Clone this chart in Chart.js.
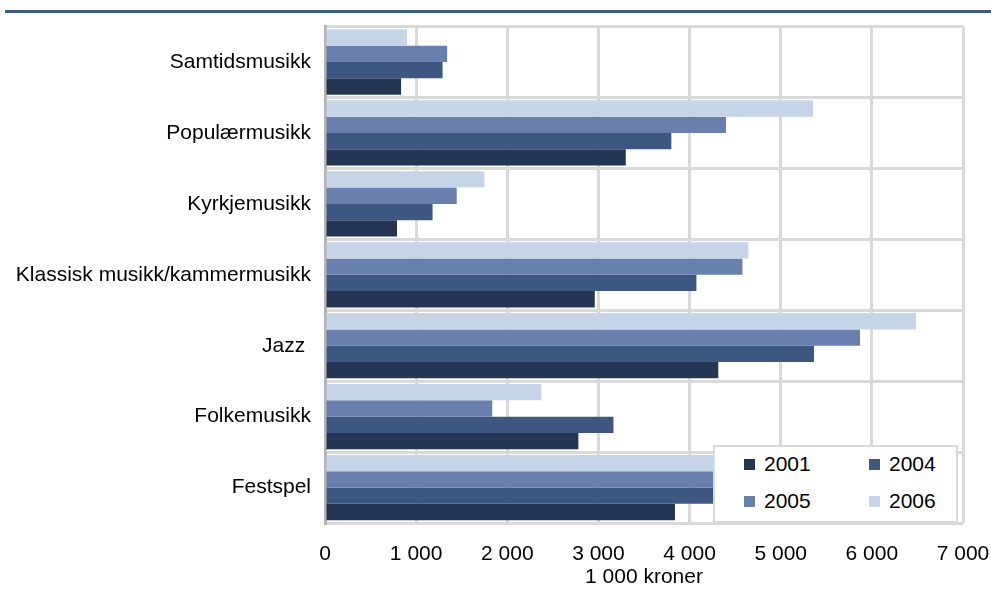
<!DOCTYPE html>
<html lang="nn">
<head>
<meta charset="UTF-8">
<title>Musikk - 1 000 kroner</title>
<script src="https://cdn.jsdelivr.net/npm/chart.js"></script>
<style>
    body { margin: 0; background: #fff; font-family: "Liberation Sans", Arial, sans-serif; }
    .wrap { position: relative; width: 991px; height: 593px; }
    .legend {
        position: absolute;
        left: 713px;
        top: 445px;
        width: 245px;
        height: 78px;
        background: #fff;
        border: 2px solid #d9d9d9;
        box-sizing: border-box;
        font-size: 21px;
        color: #000;
    }
    .legend .item { position: absolute; display: flex; align-items: center; }
    .legend .sw { width: 11px; height: 11px; margin-right: 9px; }
</style>
</head>
<body>
<div class="wrap">
    <canvas id="chart" width="991" height="593"></canvas>
    <div class="legend" id="legend"></div>
</div>
<script>
const categories = ['Samtidsmusikk', 'Populærmusikk', 'Kyrkjemusikk', 'Klassisk musikk/kammermusikk', 'Jazz ', 'Folkemusikk', 'Festspel'];
const years = ['2001', '2004', '2005', '2006'];
const v2001 = [835, 3300, 790, 2960, 4315, 2780, 3840];
const v2004 = [1290, 3800, 1180, 4075, 5365, 3165, 4400];
const v2005 = [1340, 4400, 1445, 4580, 5870, 1835, 4500];
const v2006 = [900, 5355, 1750, 4645, 6485, 2375, 4700];
const xTicks = [0, 1000, 2000, 3000, 4000, 5000, 6000, 7000];
const colors = { '2001': '#243654', '2004': '#3e5780', '2005': '#6980ae', '2006': '#c5d5e7' };

const fmt = v => String(v).replace(/\B(?=(\d{3})+(?!\d))/g, ' ');

// top of bar group is 2006, bottom is 2001
const series = [['2006', v2006], ['2005', v2005], ['2004', v2004], ['2001', v2001]];

const topRule = {
    id: 'topRule',
    beforeDraw(chart) {
        const ctx = chart.ctx;
        ctx.save();
        ctx.fillStyle = '#3f5a80';
        ctx.fillRect(5, 10, 986, 3);
        ctx.restore();
    }
};

new Chart(document.getElementById('chart'), {
    type: 'bar',
    data: {
        labels: categories,
        datasets: series.map(([y, d]) => ({
            label: y,
            data: d,
            backgroundColor: colors[y],
            borderColor: colors[y],
            borderWidth: 0,
            categoryPercentage: 0.92,
            barPercentage: 1.0
        }))
    },
    plugins: [topRule],
    options: {
        indexAxis: 'y',
        responsive: false,
        animation: false,
        layout: { padding: { top: 25, right: 28, bottom: 0, left: 0 } },
        plugins: {
            legend: { display: false },
            tooltip: { enabled: false }
        },
        scales: {
            x: {
                min: 0,
                max: 7000,
                afterBuildTicks: s => { s.ticks = xTicks.map(v => ({ value: v })); },
                afterFit: s => { s.height = 70; s.paddingRight = 0; s.paddingLeft = 0; },
                grid: { color: '#d9d9d9', lineWidth: 3, drawTicks: false },
                border: { display: false },
                ticks: {
                    padding: 19,
                    color: '#000',
                    font: { family: 'Liberation Sans', size: 21 },
                    callback: v => fmt(v)
                },
                title: {
                    display: true,
                    text: '1 000 kroner',
                    color: '#000',
                    font: { family: 'Liberation Sans', size: 21 },
                    padding: { top: 0, bottom: 3 }
                }
            },
            y: {
                afterFit: s => { s.width = 325; },
                grid: { offset: true, color: '#d9d9d9', lineWidth: 3, drawTicks: false },
                border: { color: '#b5b5b5', width: 3 },
                ticks: {
                    padding: 14,
                    color: '#000',
                    font: { family: 'Liberation Sans', size: 21 }
                }
            }
        }
    }
});

// legend, laid out 2 x 2 like the original
const legend = document.getElementById('legend');
const pos = { '2001': [29, 5], '2004': [154, 5], '2005': [29, 42], '2006': [154, 42] };
years.forEach(y => {
    const it = document.createElement('div');
    it.className = 'item';
    it.style.left = pos[y][0] + 'px';
    it.style.top = pos[y][1] + 'px';
    it.innerHTML = '<span class="sw" style="background:' + colors[y] + '"></span>' + y;
    legend.appendChild(it);
});
</script>
</body>
</html>
